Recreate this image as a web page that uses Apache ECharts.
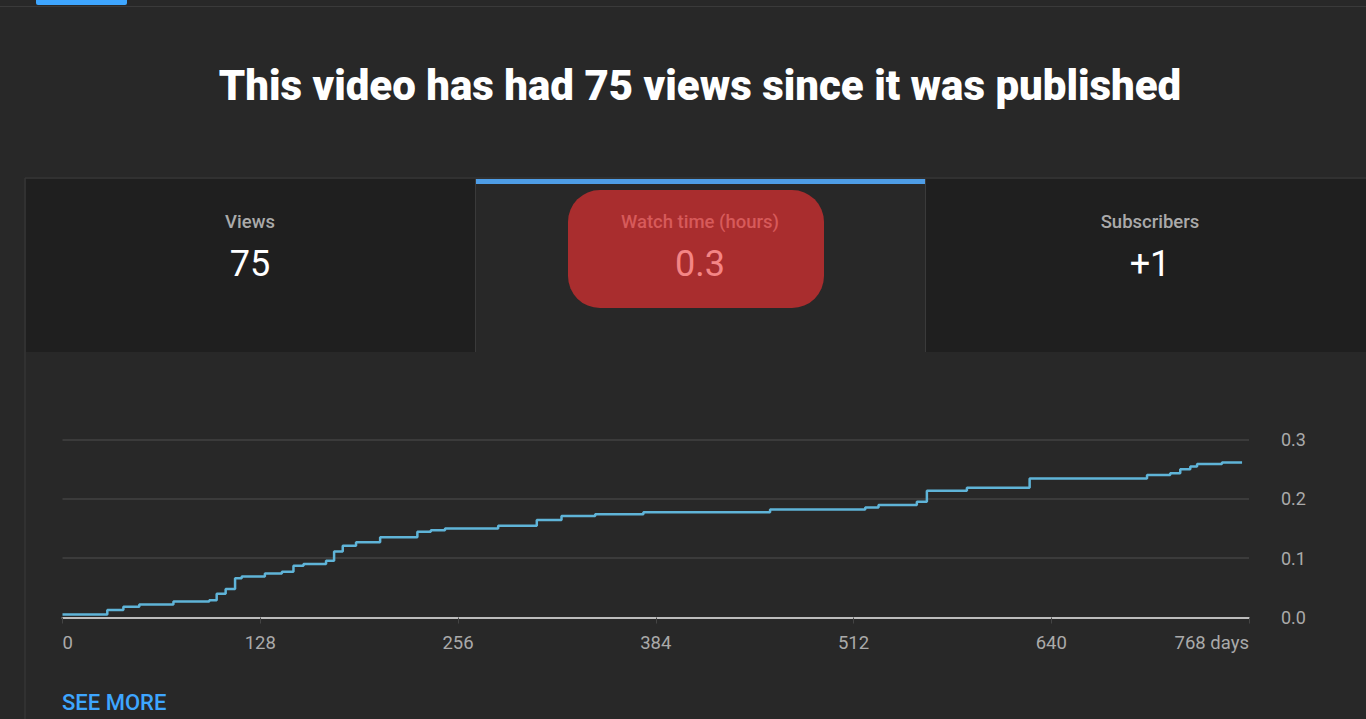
<!DOCTYPE html>
<html>
<head>
<meta charset="utf-8">
<script src="https://cdn.jsdelivr.net/npm/echarts@6/dist/echarts.min.js"></script>
<style>
html,body{margin:0;padding:0;background:#282828;}
#c{width:1366px;height:719px;}
</style>
</head>
<body>
<div id="c"></div>
<script>
// ---- data ----
const headline = 'This video has had 75 views since it was published';
const tabLabels = ['Views', 'Watch time (hours)', 'Subscribers'];
const tabValues = ['75', '0.3', '+1'];
const xTicks = [0, 128, 256, 384, 512, 640, 768];
const yTicks = [0, 0.1, 0.2, 0.3];
// cumulative watch time (hours), step changes: day at which a new level starts
const stepDays = [0, 29, 39.4, 49.7, 71.8, 95, 99.8, 105.6, 111.7, 116, 131, 142, 149.5, 156, 170.6, 175.8, 181.4, 190,
  205.6, 229.7, 238.4, 247.6, 282, 307, 323, 344.8, 376, 458, 519.6, 528.2, 553, 559.5, 585.4,
  626, 702, 717, 723.5, 730, 734.4, 750.5, 763.5];
const stepHours = [0.005, 0.0126, 0.018, 0.022, 0.027, 0.029, 0.040, 0.048, 0.066, 0.069, 0.074, 0.077, 0.087, 0.090, 0.0956, 0.111, 0.121, 0.1266,
  0.135, 0.1445, 0.147, 0.150, 0.1545, 0.164, 0.171, 0.1737, 0.177, 0.182, 0.185, 0.1894, 0.195, 0.2135, 0.2185,
  0.234, 0.240, 0.2427, 0.2495, 0.254, 0.2584, 0.261, 0.261];

const seriesData = stepDays.map((d, i) => [d, stepHours[i]]);

const chart = echarts.init(document.getElementById('c'), null, {renderer: 'svg'});
const FONT = 'Roboto';
const tabX = [25, 475, 925];
const graphics = [
  {type: 'rect', shape: {x: 0, y: 6, width: 1366, height: 1}, style: {fill: '#3a3a3a'}},
  {type: 'rect', shape: {x: 36, y: 0, width: 91, height: 5, r: [0, 0, 2, 2]}, style: {fill: '#3ea6ff'}},
  {type: 'text', x: 700, y: 85, style: {text: headline, fill: '#ffffff', font: '900 42px Roboto', align: 'center', verticalAlign: 'middle'}},
  {type: 'rect', shape: {x: 25, y: 178, width: 1360, height: 560}, style: {fill: 'none', stroke: '#3a3a3a', lineWidth: 1}},
  {type: 'rect', shape: {x: 26, y: 179, width: 449, height: 173}, style: {fill: '#1f1f1f'}},
  {type: 'rect', shape: {x: 926, y: 179, width: 440, height: 173}, style: {fill: '#1f1f1f'}},
  {type: 'rect', shape: {x: 475, y: 179, width: 1, height: 173}, style: {fill: '#3a3a3a'}},
  {type: 'rect', shape: {x: 925, y: 179, width: 1, height: 173}, style: {fill: '#3a3a3a'}},
  {type: 'rect', shape: {x: 476, y: 179, width: 449, height: 5}, style: {fill: '#4e9de6'}},
  {type: 'rect', shape: {x: 568, y: 190, width: 256, height: 118, r: 32}, style: {fill: '#a92d2e'}},
];
const labelColors = ['#aaaaaa', '#d75a5a', '#aaaaaa'];
const valueColors = ['#ffffff', '#f48585', '#ffffff'];
for (let i = 0; i < 3; i++) {
  const cx = tabX[i] + 225;
  graphics.push({type: 'text', x: cx, y: 222, style: {text: tabLabels[i], fill: labelColors[i], font: '500 18.5px Roboto', align: 'center', verticalAlign: 'middle'}});
  graphics.push({type: 'text', x: cx, y: 264, style: {text: tabValues[i], fill: valueColors[i], font: '400 36px Roboto', align: 'center', verticalAlign: 'middle'}});
}
graphics.push({type: 'text', x: 62, y: 702, style: {text: 'SEE MORE', fill: '#3ea6ff', font: '500 22px Roboto', align: 'left', verticalAlign: 'middle'}});

chart.setOption({
  backgroundColor: '#282828',
  animation: false,
  graphic: graphics,
  grid: {left: 62.5, right: 117, top: 439.3, bottom: 101.5, containLabel: false},
  xAxis: {
    type: 'value', min: xTicks[0], max: xTicks[xTicks.length - 1], interval: 128,
    axisLine: {show: true, onZero: false, lineStyle: {color: '#bdbdbd', width: 2}},
    axisTick: {show: true, length: 6, lineStyle: {color: '#444'}},
    splitLine: {show: false},
    axisLabel: {
      color: '#aaaaaa', fontFamily: FONT, fontSize: 18.5, margin: 16,
      alignMinLabel: 'left', alignMaxLabel: 'right',
      formatter: v => v === xTicks[xTicks.length - 1] ? v + ' days' : String(v)
    }
  },
  yAxis: {
    type: 'value', position: 'right', min: yTicks[0], max: yTicks[yTicks.length - 1], interval: 0.1,
    axisLine: {show: false}, axisTick: {show: false},
    splitLine: {show: true, lineStyle: {color: '#3b3b3b', width: 2}},
    axisLabel: {color: '#aaaaaa', fontFamily: FONT, fontSize: 18, margin: 32, align: 'left', formatter: v => v.toFixed(1)}
  },
  series: [{
    type: 'line', step: 'end', data: seriesData, showSymbol: false,
    lineStyle: {color: '#5fb4d8', width: 2.5}, z: 3
  }]
});
</script>
</body>
</html>
